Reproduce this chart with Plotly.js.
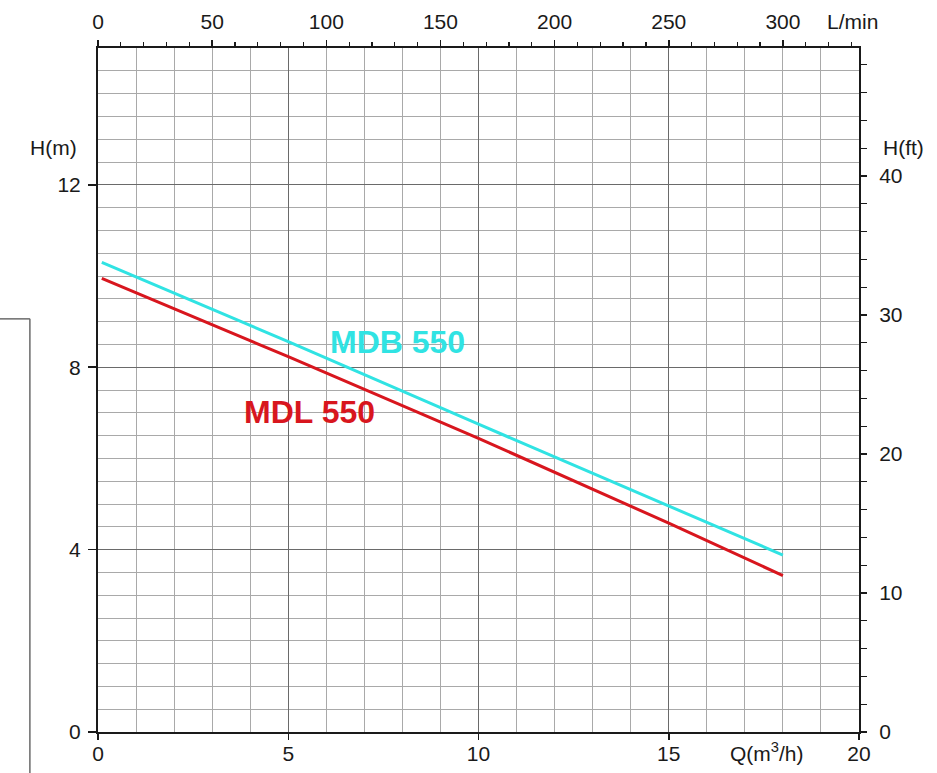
<!DOCTYPE html>
<html>
<head>
<meta charset="utf-8">
<script src="https://cdn.plot.ly/plotly-3.0.1.min.js"></script>
<style>html,body{margin:0;padding:0;background:#fff;}#chart{width:937px;height:773px;}</style>
</head>
<body>
<div id="chart"></div>
<script>
// Data
const flowQ = [0.1, 5, 10, 15, 18];             // Q (m3/h)
const headMDB = [10.3, 8.56, 6.75, 4.96, 3.88];  // H (m), MDB 550
const headMDL = [9.95, 8.23, 6.44, 4.58, 3.43];  // H (m), MDL 550
const seriesNames = ['MDB 550', 'MDL 550'];
const xTicks = [0, 5, 10, 15, 20];
const yTicks = [0, 4, 8, 12];
const lminTicks = [0, 50, 100, 150, 200, 250, 300];
const ftTicks = [0, 10, 20, 30, 40];

const Q_MAX = 20, H_MAX = 15;
const M3H_TO_LMIN = 1000 / 60;
const M_TO_FT = 3.28084;

const FONT = 'Liberation Sans, Arial, Helvetica, sans-serif';
const CYAN = '#30e3e3';
const RED = '#d8161e';

const traces = [
  {x: flowQ, y: headMDB, mode: 'lines', name: seriesNames[0],
   line: {color: CYAN, width: 3}, showlegend: false, hoverinfo: 'skip'},
  {x: flowQ, y: headMDL, mode: 'lines', name: seriesNames[1],
   line: {color: RED, width: 3}, showlegend: false, hoverinfo: 'skip'},
  {x: [], y: [], xaxis: 'x2', yaxis: 'y2', mode: 'lines', showlegend: false, hoverinfo: 'skip'}
];

const tickFont = {family: FONT, size: 21, color: '#1a1a1a'};
const MINOR_GRID = '#a9a9a9';
const MAJOR_GRID = '#6a6a6a';

const layout = {
  width: 937, height: 773,
  margin: {l: 98, r: 78, t: 48, b: 41, pad: 0},
  paper_bgcolor: '#ffffff', plot_bgcolor: '#ffffff',
  showlegend: false,
  font: {family: FONT},
  xaxis: {
    range: [0, Q_MAX], tickmode: 'array', tickvals: xTicks,
    ticks: 'outside', ticklen: 6, tickwidth: 1.5, tickcolor: '#1a1a1a',
    ticklabelstandoff: -4,
    showline: true, linecolor: '#1a1a1a', linewidth: 2,
    showgrid: true, gridcolor: MAJOR_GRID, gridwidth: 1,
    minor: {dtick: 1, tick0: 0, showgrid: true, gridcolor: MINOR_GRID, gridwidth: 1, ticks: ''},
    zeroline: false, tickfont: tickFont, fixedrange: true
  },
  yaxis: {
    range: [0, H_MAX], tickmode: 'array', tickvals: yTicks,
    ticks: 'outside', ticklen: 8, tickwidth: 1.5, tickcolor: '#1a1a1a',
    ticklabelstandoff: 3,
    showline: true, linecolor: '#1a1a1a', linewidth: 2,
    showgrid: true, gridcolor: MAJOR_GRID, gridwidth: 1,
    minor: {dtick: 0.5, tick0: 0, showgrid: true, gridcolor: MINOR_GRID, gridwidth: 1, ticks: ''},
    zeroline: false, tickfont: tickFont, fixedrange: true
  },
  xaxis2: {
    overlaying: 'x', side: 'top', anchor: 'y',
    range: [0, Q_MAX * M3H_TO_LMIN], tickmode: 'array', tickvals: lminTicks,
    ticks: 'outside', ticklen: 6, tickwidth: 1.5, tickcolor: '#1a1a1a',
    ticklabelstandoff: 3,
    minor: {dtick: 10, tick0: 0, ticks: 'outside', ticklen: 4, tickwidth: 1.2, tickcolor: '#1a1a1a', showgrid: false},
    showline: true, linecolor: '#1a1a1a', linewidth: 2,
    showgrid: false, zeroline: false, tickfont: tickFont, fixedrange: true
  },
  yaxis2: {
    overlaying: 'y', side: 'right', anchor: 'x',
    range: [0, H_MAX * M_TO_FT], tickmode: 'array', tickvals: ftTicks,
    ticks: 'outside', ticklen: 6, tickwidth: 1.5, tickcolor: '#1a1a1a',
    ticklabelstandoff: 8,
    minor: {dtick: 2, tick0: 0, ticks: 'outside', ticklen: 6, tickwidth: 1.2, tickcolor: '#1a1a1a', showgrid: false},
    showline: true, linecolor: '#1a1a1a', linewidth: 2,
    showgrid: false, zeroline: false, tickfont: tickFont, fixedrange: true
  },
  annotations: [
    {text: seriesNames[0], xref: 'x', yref: 'y', x: 7.87, y: 8.55, showarrow: false,
     font: {family: FONT, size: 32, color: CYAN, weight: 'bold'}, xanchor: 'center', yanchor: 'middle'},
    {text: seriesNames[1], xref: 'x', yref: 'y', x: 5.56, y: 7.02, showarrow: false,
     font: {family: FONT, size: 32, color: RED, weight: 'bold'}, xanchor: 'center', yanchor: 'middle'},
    {text: 'H(m)', xref: 'paper', yref: 'paper', x: -0.058, y: 0.854, showarrow: false,
     font: tickFont, xanchor: 'center', yanchor: 'middle'},
    {text: 'H(ft)', xref: 'paper', yref: 'paper', x: 1.059, y: 0.854, showarrow: false,
     font: tickFont, xanchor: 'center', yanchor: 'middle'},
    {text: 'L/min', xref: 'paper', yref: 'paper', x: 0.991, y: 1.039, showarrow: false,
     font: tickFont, xanchor: 'center', yanchor: 'middle'},
    {text: 'Q(m<sup>3</sup>/h)', xref: 'paper', yref: 'paper', x: 0.879, y: -0.029, showarrow: false,
     font: tickFont, xanchor: 'center', yanchor: 'middle'}
  ],
  shapes: [
    {type: 'line', xref: 'paper', yref: 'paper', x0: -0.13, y0: 0.604, x1: -0.0895, y1: 0.604,
     line: {color: '#6a6a6a', width: 1.5}},
    {type: 'line', xref: 'paper', yref: 'paper', x0: -0.0895, y0: 0.604, x1: -0.0895, y1: -0.07,
     line: {color: '#6a6a6a', width: 1.5}}
  ]
};

Plotly.newPlot('chart', traces, layout, {displayModeBar: false, staticPlot: true});
</script>
</body>
</html>
